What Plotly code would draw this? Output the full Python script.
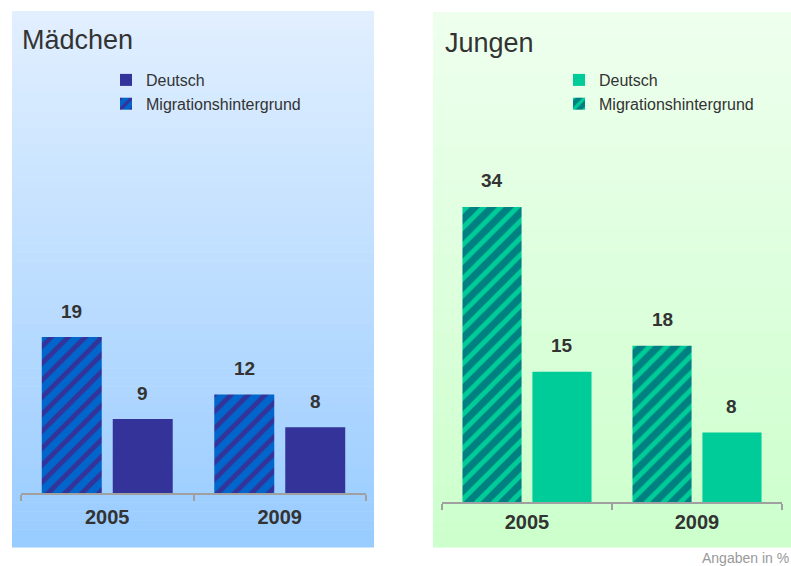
import plotly.graph_objects as go

W, H = 791, 566

jahre = ["2005", "2009"]
maedchen_migration = [19, 12]
maedchen_deutsch = [9, 8]
jungen_migration = [34, 18]
jungen_deutsch = [15, 8]

FONT = "Arial, Liberation Sans, sans-serif"


def px_x(p):
    return p / W


def px_y(p):
    return 1 - p / H


def mix(c1, c2, t):
    a = [int(c1[i:i + 2], 16) for i in (1, 3, 5)]
    b = [int(c2[i:i + 2], 16) for i in (1, 3, 5)]
    return "#" + "".join("%02x" % round(a[k] + (b[k] - a[k]) * t) for k in range(3))


def verlauf(x0, x1, y0, y1, oben, unten, n=60):
    # vertikaler Farbverlauf als schmale Streifen
    shapes = []
    h = (y1 - y0) / n
    for i in range(n):
        shapes.append(dict(
            type="rect", xref="paper", yref="paper", layer="below",
            x0=px_x(x0), x1=px_x(x1),
            y0=px_y(y0 + (i + 1) * h + 0.5), y1=px_y(y0 + i * h),
            fillcolor=mix(oben, unten, i / (n - 1)), line_width=0,
        ))
    return shapes


BARGAP = 0.177

fig = go.Figure()

# Mädchen
fig.add_trace(go.Bar(
    x=jahre, y=maedchen_migration, name="Migrationshintergrund",
    marker=dict(color="#0066cc", line_width=0,
                pattern=dict(shape="/", bgcolor="#0066cc", fgcolor="#333399",
                             size=12, solidity=0.4, fillmode="replace")),
    xaxis="x", yaxis="y", legend="legend", legendrank=2,
))
fig.add_trace(go.Bar(
    x=jahre, y=maedchen_deutsch, name="Deutsch",
    marker=dict(color="#333399", line_width=0),
    xaxis="x", yaxis="y", legend="legend", legendrank=1,
))

# Jungen
fig.add_trace(go.Bar(
    x=jahre, y=jungen_migration, name="Migrationshintergrund",
    marker=dict(color="#008080", line_width=0,
                pattern=dict(shape="/", bgcolor="#008080", fgcolor="#00cc99",
                             size=12, solidity=0.4, fillmode="replace")),
    xaxis="x2", yaxis="y2", legend="legend2", legendrank=2,
))
fig.add_trace(go.Bar(
    x=jahre, y=jungen_deutsch, name="Deutsch",
    marker=dict(color="#00cc99", line_width=0),
    xaxis="x2", yaxis="y2", legend="legend2", legendrank=1,
))

# Werte über den Balken
annotations = []
slot = (1 - BARGAP) / 4
for xa, ya, reihen in [("x", "y", [maedchen_migration, maedchen_deutsch]),
                       ("x2", "y2", [jungen_migration, jungen_deutsch])]:
    for k, werte in enumerate(reihen):
        for i, v in enumerate(werte):
            annotations.append(dict(
                x=i + (-slot if k == 0 else slot), y=v, xref=xa, yref=ya,
                text="<b>%d</b>" % v, showarrow=False, yshift=26,
                font=dict(size=19, color="#333333", family=FONT),
            ))

annotations += [
    dict(x=px_x(20), y=px_y(40), xref="paper", yref="paper", xanchor="left",
         yanchor="middle", text="Mädchen", showarrow=False,
         font=dict(size=27, color="#333333", family=FONT)),
    dict(x=px_x(443), y=px_y(43), xref="paper", yref="paper", xanchor="left",
         yanchor="middle", text="Jungen", showarrow=False,
         font=dict(size=27, color="#333333", family=FONT)),
    dict(x=1, y=px_y(558), xref="paper", yref="paper", xanchor="right",
         yanchor="middle", text="Angaben in %", showarrow=False,
         font=dict(size=14, color="#999999", family=FONT)),
]

achse_x = dict(type="category", showline=True, linecolor="#a0a0a0", linewidth=1.5,
               ticks="outside", tickson="boundaries", ticklen=6, tickcolor="#a0a0a0",
               tickwidth=1.5, showgrid=False, zeroline=False,
               tickfont=dict(size=20, color="#333333", family=FONT),
               tickprefix="<b>", ticksuffix="</b>")
achse_y = dict(visible=False, showgrid=False, zeroline=False)

fig.update_layout(
    width=W, height=H,
    margin=dict(l=0, r=0, t=0, b=0),
    paper_bgcolor="white", plot_bgcolor="rgba(0,0,0,0)",
    barmode="group", bargap=BARGAP, bargroupgap=0.155,
    font=dict(family=FONT, color="#333333"),
    xaxis=dict(achse_x, domain=[px_x(21), px_x(366)], anchor="y",
               ticklabelstandoff=5),
    yaxis=dict(achse_y, domain=[px_y(493), px_y(11)], range=[0, (493 - 11) / 8.21],
               anchor="x"),
    xaxis2=dict(achse_x, domain=[px_x(442), px_x(782)], anchor="y2",
                ticklabelstandoff=1),
    yaxis2=dict(achse_y, domain=[px_y(502), px_y(11)], range=[0, (502 - 11) / 8.68],
                anchor="x2"),
    legend=dict(x=px_x(106), y=px_y(63), xanchor="left", yanchor="top",
                bgcolor="rgba(0,0,0,0)", font=dict(size=16, color="#333333"),
                traceorder="normal"),
    legend2=dict(x=px_x(559), y=px_y(63), xanchor="left", yanchor="top",
                 bgcolor="rgba(0,0,0,0)", font=dict(size=16, color="#333333"),
                 traceorder="normal"),
    shapes=verlauf(12, 374, 11, 547, "#e1efff", "#99ccff")
    + verlauf(433, 791, 12, 547, "#eeffee", "#ccffcc"),
    annotations=annotations,
)

fig.write_html("out.html", config={"displayModeBar": False},
               post_script="document.body.style.margin='0';")
